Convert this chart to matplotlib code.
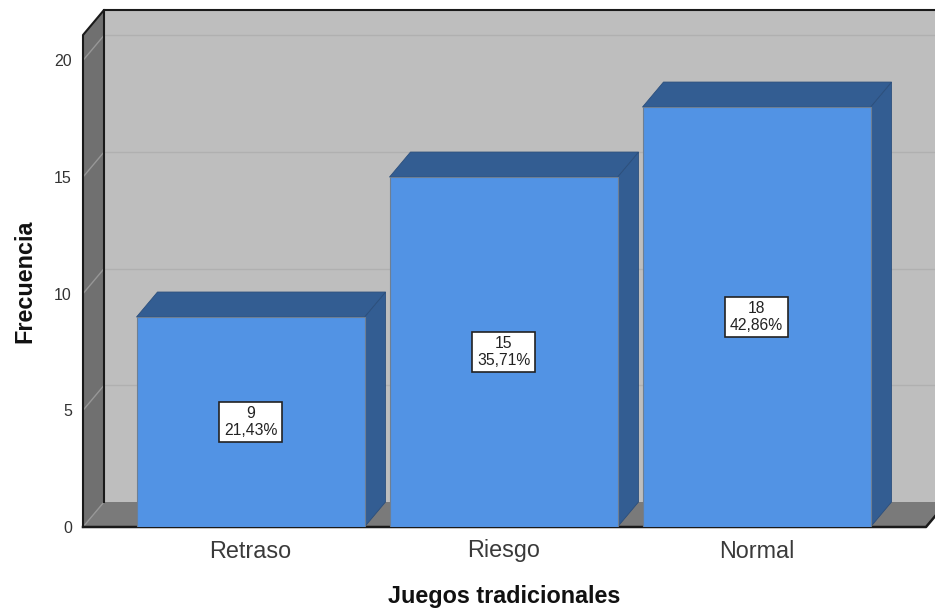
import matplotlib
matplotlib.use('Agg')
import matplotlib.pyplot as plt
from matplotlib.patches import Polygon, Rectangle

plt.rcParams['font.family'] = ['Liberation Sans', 'DejaVu Sans']

# Data
categories = ['Retraso', 'Riesgo', 'Normal']
counts = [9, 15, 18]
percents = ['21,43%', '35,71%', '42,86%']
y_ticks = [0, 5, 10, 15, 20]

# Colours
bar_front = '#5293E4'
bar_dark = '#335D92'
wall = '#BEBEBE'
side_wall = '#707070'
floor = '#7A7A7A'
grid_col = '#B0B0B0'

# Scale and depth of the fake 3D box
bar_w = 228 / 253
depth_x = 21 / 253
depth_y = 25 / 23.33
x_min = (83 - 250.5) / 253
x_max = (926 - 250.5) / 253
y_max = (527 - 35) / 23.33

fig = plt.figure(figsize=(9.35, 6.12), dpi=100)
ax = fig.add_axes([83 / 935, 1 - 527 / 612, (926 - 83) / 935, (527 - 35) / 612])
ax.set_xlim(x_min, x_max)
ax.set_ylim(0, y_max)
for s in ax.spines.values():
    s.set_visible(False)
ax.patch.set_visible(False)

back_l = x_min + depth_x
back_r = x_max + depth_x
back_t = y_max + depth_y

# Back wall, left wall and floor
ax.add_patch(Polygon([(back_l, depth_y), (back_r, depth_y), (back_r, back_t), (back_l, back_t)],
                     fc=wall, ec='none', clip_on=False, zorder=1))
ax.add_patch(Polygon([(x_min, 0), (back_l, depth_y), (back_l, back_t), (x_min, y_max)],
                     fc=side_wall, ec='none', clip_on=False, zorder=1))
ax.add_patch(Polygon([(x_min, 0), (x_max, 0), (back_r, depth_y), (back_l, depth_y)],
                     fc=floor, ec='none', clip_on=False, zorder=1))

# Grid lines run across the wall and down the side
for v in y_ticks:
    ax.plot([x_min, back_l], [v, v + depth_y], color='#979797', lw=1.0, clip_on=False, zorder=2)
    if v > 0:
        ax.plot([back_l, back_r], [v + depth_y, v + depth_y], color=grid_col, lw=1.0,
                clip_on=False, zorder=2)

# Box outline
ax.plot([x_min, x_min, back_l, back_r], [0, y_max, back_t, back_t], color='#1A1A1A', lw=1.5,
        clip_on=False, zorder=3)
ax.plot([back_l, back_l], [depth_y, back_t], color='#1A1A1A', lw=1.5, clip_on=False, zorder=3)
ax.plot([x_min, x_max, back_r], [0, 0, depth_y], color='#1A1A1A', lw=1.8, clip_on=False, zorder=3)

# Bars
for i, (c, p) in enumerate(zip(counts, percents)):
    l = i - bar_w / 2
    r = i + bar_w / 2
    ax.add_patch(Polygon([(r, 0), (r + depth_x, depth_y), (r + depth_x, c + depth_y), (r, c)],
                         fc=bar_dark, ec='#2C4F7C', lw=0.6, zorder=4))
    ax.add_patch(Polygon([(l, c), (r, c), (r + depth_x, c + depth_y), (l + depth_x, c + depth_y)],
                         fc=bar_dark, ec='#2C4F7C', lw=0.6, clip_on=False, zorder=4))
    ax.add_patch(Rectangle((l, 0), bar_w, c, fc=bar_front, ec='#6E7F93', lw=0.8, zorder=5))
    ax.text(i, c / 2, f'{c}\n{p}', ha='center', va='center', fontsize=11.3, linespacing=1.1,
            color='#222222', zorder=6,
            bbox=dict(boxstyle='square,pad=0.3', fc='white', ec='#222222', lw=1.2))

# Axes text
ax.set_xticks(range(len(categories)))
ax.set_xticklabels(categories, fontsize=16.8, color='#3A3A3A')
ax.set_yticks(y_ticks)
ax.set_yticklabels([str(v) for v in y_ticks], fontsize=11.5, color='#333333')
ax.tick_params(axis='x', length=0, pad=9)
ax.tick_params(axis='y', length=0, pad=8)
fig.text(504 / 935, 1 - 597 / 612, 'Juegos tradicionales', ha='center', va='center',
         fontsize=16.8, fontweight='bold', color='#111111')
fig.text(25 / 935, 1 - 281 / 612, 'Frecuencia', ha='center', va='center', rotation=90,
         fontsize=16.8, fontweight='bold', color='#111111')

fig.savefig('out.png', dpi=100)
